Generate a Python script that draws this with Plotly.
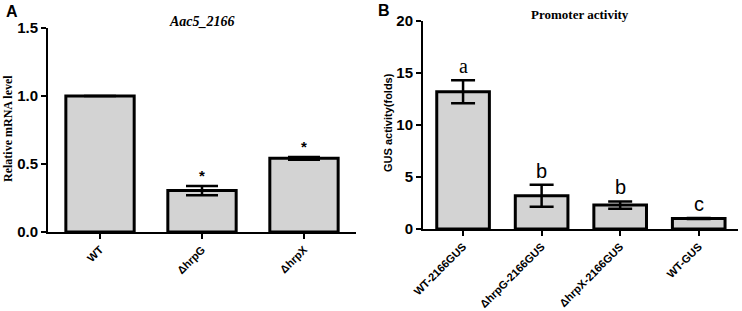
import plotly.graph_objects as go

# Panel A data
a_categories = ["WT", "ΔhrpG", "ΔhrpX"]
a_values = [1.0, 0.305, 0.542]
a_errors = [0.0, 0.034, 0.010]
a_marks = ["", "*", "*"]
a_yticks = [0.0, 0.5, 1.0, 1.5]

# Panel B data
b_categories = ["WT-2166GUS", "ΔhrpG-2166GUS", "ΔhrpX-2166GUS", "WT-GUS"]
b_values = [13.2, 3.2, 2.3, 1.0]
b_errors = [1.1, 1.05, 0.35, 0.05]
b_letters = ["a", "b", "b", "c"]
b_yticks = [0, 5, 10, 15, 20]

W, H = 742, 311
SANS = "Liberation Sans, Arial, sans-serif"
SERIF = "Liberation Serif, Times New Roman, serif"

def px_x(v):
    return v / W

def px_y(v):
    return (H - v) / H

fig = go.Figure()

fig.add_trace(go.Bar(
    x=a_categories, y=a_values, width=0.67,
    marker=dict(color="#d3d3d3", line=dict(color="black", width=3)),
    error_y=dict(type="data", array=a_errors, color="black", thickness=2.5, width=16, visible=True),
    xaxis="x", yaxis="y", showlegend=False,
))
fig.add_trace(go.Bar(
    x=b_categories, y=b_values, width=0.67,
    marker=dict(color="#d3d3d3", line=dict(color="black", width=3)),
    error_y=dict(type="data", array=b_errors, color="black", thickness=2.5, width=12, visible=True),
    xaxis="x2", yaxis="y2", showlegend=False,
))

axis_common = dict(showline=True, linecolor="black", linewidth=2, ticks="outside",
                   ticklen=5, tickwidth=2, tickcolor="black", showgrid=False, zeroline=False,
                   automargin=False)

fig.update_layout(
    width=W, height=H,
    margin=dict(l=0, r=0, t=0, b=0),
    paper_bgcolor="white", plot_bgcolor="white",
    bargap=0.33,
    xaxis=dict(domain=[px_x(48), px_x(356)], range=[-0.51, 2.51], anchor="y",
               tickangle=-45, tickfont=dict(family=SANS, size=11, color="black", weight="bold"),
               **axis_common),
    yaxis=dict(domain=[px_y(232), px_y(28)], range=[0, 1.5], anchor="x",
               tickvals=a_yticks, tickformat=".1f",
               tickfont=dict(family=SANS, size=15, color="black", weight="bold"),
               **axis_common),
    xaxis2=dict(domain=[px_x(423), px_x(738)], range=[-0.51, 3.5], anchor="y2",
                tickangle=-45, tickfont=dict(family=SANS, size=11, color="black", weight="bold"),
                **axis_common),
    yaxis2=dict(domain=[px_y(229), px_y(21)], range=[0, 20], anchor="x2",
                tickvals=b_yticks,
                tickfont=dict(family=SANS, size=15, color="black", weight="bold"),
                **axis_common),
)

ann = []
# Panel labels
ann.append(dict(text="<b>A</b>", x=px_x(4), y=px_y(12), xref="paper", yref="paper",
                xanchor="left", yanchor="middle", showarrow=False,
                font=dict(family=SANS, size=16, color="black")))
ann.append(dict(text="<b>B</b>", x=px_x(376), y=px_y(10), xref="paper", yref="paper",
                xanchor="left", yanchor="middle", showarrow=False,
                font=dict(family=SANS, size=16, color="black")))
# Titles
ann.append(dict(text="<b><i>Aac5_2166</i></b>", x=px_x(202), y=px_y(22), xref="paper", yref="paper",
                xanchor="center", yanchor="middle", showarrow=False,
                font=dict(family=SERIF, size=14, color="black")))
ann.append(dict(text="<b>Promoter activity</b>", x=px_x(580), y=px_y(15), xref="paper", yref="paper",
                xanchor="center", yanchor="middle", showarrow=False,
                font=dict(family=SERIF, size=13, color="black")))
# Y titles
ann.append(dict(text="<b>Relative mRNA level</b>", x=px_x(8), y=px_y(129), xref="paper", yref="paper",
                xanchor="center", yanchor="middle", textangle=-90, showarrow=False,
                font=dict(family=SERIF, size=12, color="black")))
ann.append(dict(text="GUS activity(folds)", x=px_x(388), y=px_y(123), xref="paper", yref="paper",
                xanchor="center", yanchor="middle", textangle=-90, showarrow=False,
                font=dict(family=SANS, size=11, color="black", weight="bold")))
# Significance marks
for c, v, e, m in zip(a_categories, a_values, a_errors, a_marks):
    if m:
        ann.append(dict(text="<b>" + m + "</b>", x=c, y=v + e, xref="x", yref="y",
                        xanchor="center", yanchor="bottom", yshift=0, showarrow=False,
                        font=dict(family=SANS, size=15, color="black")))
for c, v, e, m in zip(b_categories, b_values, b_errors, b_letters):
    fam = SERIF if m == "a" else SANS
    ann.append(dict(text=m, x=c, y=v + e, xref="x2", yref="y2",
                    xanchor="center", yanchor="bottom", yshift=1, showarrow=False,
                    font=dict(family=fam, size=20, color="black")))

fig.update_layout(annotations=ann)
fig.write_html("out.html",
               config={"displayModeBar": False},
               post_script="document.body.style.margin='0';document.body.style.padding='0';")
